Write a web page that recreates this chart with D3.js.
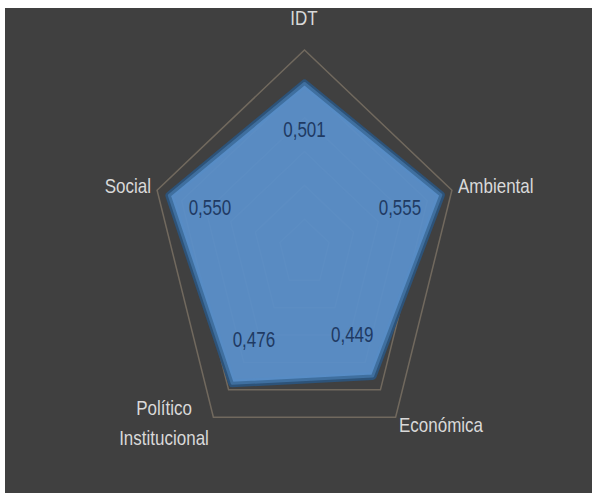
<!DOCTYPE html>
<html>
<head>
<meta charset="utf-8">
<script src="https://cdn.jsdelivr.net/npm/d3@7"></script>
<style>
  body { margin: 0; background: #fff; }
  svg { display: block; }
  .axisLabel { fill: #d9d9d9; font-family: "Liberation Sans", Arial, sans-serif; font-size: 17px; }
  .valueLabel { fill: #1f3a63; font-family: "Liberation Sans", Arial, sans-serif; font-size: 17px; }
</style>
</head>
<body>
<div id="radar"></div>
<script>
// chart data
let categories = ["IDT", "Ambiental", "Económica", "Político Institucional", "Social"];
let values = [0.501, 0.555, 0.449, 0.476, 0.550];
let valueLabels = ["0,501", "0,555", "0,449", "0,476", "0,550"];
let gridLevels = [0.1, 0.2, 0.3, 0.4, 0.5, 0.6];

let svgWidth = 592;
let svgHeight = 493;

// the picture is stretched vertically, so two radii
let cx = 304.5;
let cy = 253;

let svg = d3.select("#radar")
  .append("svg")
  .attr("width", svgWidth)
  .attr("height", svgHeight);

svg.append("rect")
  .attr("x", 5)
  .attr("y", 8)
  .attr("width", svgWidth - 5)
  .attr("height", svgHeight - 8)
  .attr("fill", "#404040");

let rX = d3.scaleLinear().domain([0, 0.6]).range([0, 155]);
let rY = d3.scaleLinear().domain([0, 0.6]).range([0, 203]);
let angle = d3.scalePoint().domain(d3.range(categories.length + 1)).range([0, 2 * Math.PI]);

function px(i, v) { return cx + rX(v) * Math.sin(angle(i)); }
function py(i, v) { return cy - rY(v) * Math.cos(angle(i)); }

let line = d3.line()
  .x(d => px(d.i, d.v))
  .y(d => py(d.i, d.v))
  .curve(d3.curveLinearClosed);

let chartGroup = svg.append("g");

// grid pentagons
chartGroup.selectAll(".grid")
  .data(gridLevels)
  .enter()
  .append("path")
  .attr("class", "grid")
  .attr("d", lv => line(categories.map((c, i) => ({ i: i, v: lv }))))
  .attr("fill", "none")
  .attr("stroke", "#71695e")
  .attr("stroke-width", 1.5);

// data area
let pts = values.map((v, i) => ({ i: i, v: v }));

chartGroup.append("path")
  .attr("d", line(pts))
  .attr("fill", "none")
  .attr("stroke", "#2d5379")
  .attr("stroke-width", 8)
  .attr("stroke-linejoin", "round");

chartGroup.append("path")
  .attr("d", line(pts))
  .attr("fill", "#5a8fca")
  .attr("fill-opacity", 0.94)
  .attr("stroke", "#3f6f9f")
  .attr("stroke-width", 3)
  .attr("stroke-linejoin", "round");

// value labels
chartGroup.selectAll(".valueLabel")
  .data(pts)
  .enter()
  .append("text")
  .attr("class", "valueLabel")
  .attr("text-anchor", "middle")
  .attr("dominant-baseline", "middle")
  .attr("transform", d => `translate(${px(d.i, d.v * 0.7)}, ${py(d.i, d.v * 0.7) - 3}) scale(1,1.25)`)
  .text(d => valueLabels[d.i]);

// category labels
let labelPos = [
  { x: 304, y: 25, anchor: "middle" },
  { x: 458, y: 193, anchor: "start" },
  { x: 399, y: 432, anchor: "start" },
  { x: 164, y: 415, anchor: "middle" },
  { x: 151, y: 193, anchor: "end" }
];

categories.forEach(function(c, i) {
  let words = c.split(" ");
  let t = chartGroup.append("text")
    .attr("class", "axisLabel")
    .attr("text-anchor", labelPos[i].anchor)
    .attr("transform", `translate(${labelPos[i].x}, ${labelPos[i].y}) scale(1,1.2)`);
  words.forEach(function(w, k) {
    t.append("tspan")
      .attr("x", 0)
      .attr("dy", k == 0 ? 0 : 25)
      .text(w);
  });
});
</script>
</body>
</html>
